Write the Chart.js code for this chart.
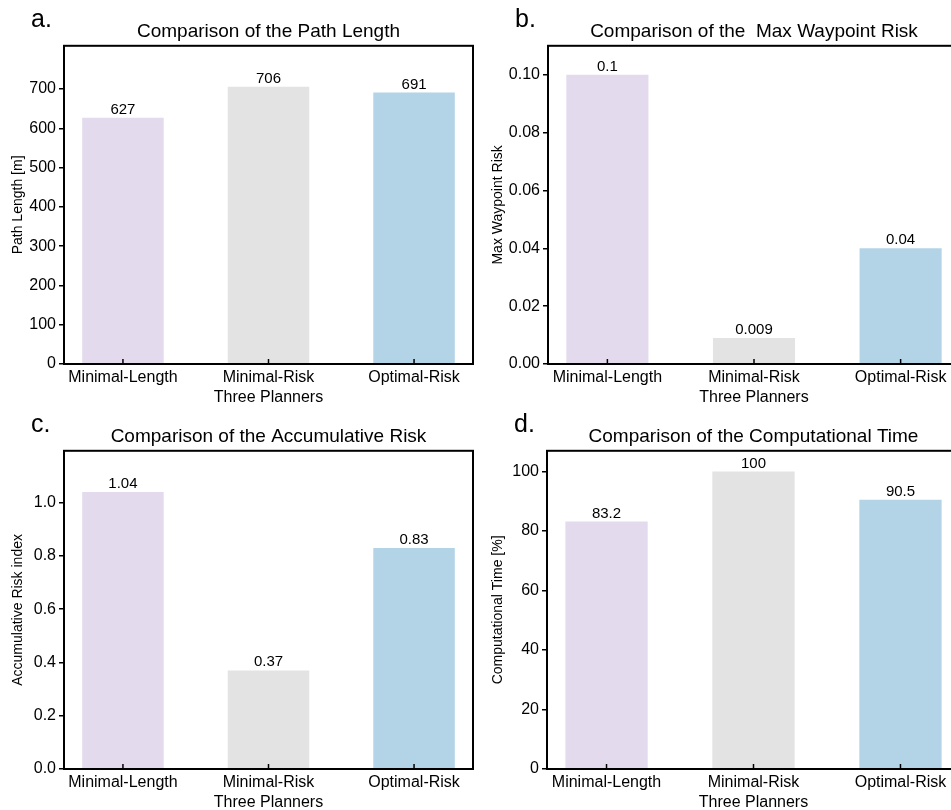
<!DOCTYPE html>
<html>
<head>
<meta charset="utf-8">
<title>Three Planners</title>
<script src="https://cdn.jsdelivr.net/npm/chart.js@4.4.1/dist/chart.umd.min.js"></script>
<style>
  html, body { margin: 0; padding: 0; background: #fff; overflow: hidden; }
  body { width: 951px; height: 810px; position: relative; }
  canvas { position: absolute; }
</style>
</head>
<body>
<canvas id="chartA" width="480" height="408" style="left:0;top:0"></canvas>
<canvas id="chartB" width="480" height="408" style="left:480px;top:0"></canvas>
<canvas id="chartC" width="480" height="408" style="left:0;top:405px"></canvas>
<canvas id="chartD" width="480" height="408" style="left:480px;top:405px"></canvas>
<script>
// ---------- DATA ----------
const planners = ["Minimal-Length", "Minimal-Risk", "Optimal-Risk"];

const pathLength        = [627, 706, 691];
const maxWaypointRisk   = [0.1, 0.009, 0.04];
const accumulativeRisk  = [1.04, 0.37, 0.83];
const computationalTime = [83.2, 100, 90.5];

const pathLengthTicks   = ["0", "100", "200", "300", "400", "500", "600", "700"];
const waypointRiskTicks = ["0.00", "0.02", "0.04", "0.06", "0.08", "0.10"];
const accRiskTicks      = ["0.0", "0.2", "0.4", "0.6", "0.8", "1.0"];
const compTimeTicks     = ["0", "20", "40", "60", "80", "100"];

// ---------- STYLE ----------
const plannerColors = ["#e3dbed", "#e3e3e3", "#b3d4e7"];

Chart.defaults.font.family = "'Liberation Sans', Arial, sans-serif";
Chart.defaults.color = "#000";

// frame, inward x ticks, value labels and panel letter
const panelDecor = {
  id: "panelDecor",
  afterDatasetsDraw(chart, args, opts) {
    const { ctx, chartArea: a, scales: { x } } = chart;
    ctx.save();
    ctx.strokeStyle = "#000";

    ctx.lineWidth = 1.5;
    x.ticks.forEach(t => {
      const px = x.getPixelForValue(t.value);
      ctx.beginPath();
      ctx.moveTo(px, a.bottom);
      ctx.lineTo(px, a.bottom - 5);
      ctx.stroke();
    });

    ctx.lineWidth = 2;
    ctx.strokeRect(a.left, a.top, a.right - a.left, a.bottom - a.top);

    ctx.fillStyle = "#000";
    ctx.font = "15px 'Liberation Sans', Arial, sans-serif";
    ctx.textAlign = "center";
    ctx.textBaseline = "alphabetic";
    chart.getDatasetMeta(0).data.forEach((bar, i) => {
      ctx.fillText(String(opts.values[i]), bar.x, bar.y - 4);
    });

    ctx.font = "25px 'Liberation Sans', Arial, sans-serif";
    ctx.textAlign = "left";
    ctx.fillText(opts.letter, a.left - 33, a.top - 19);
    ctx.restore();
  }
};

function buildChart(id, o) {
  const tickVals = o.tickLabels.map(Number);
  return new Chart(document.getElementById(id), {
    type: "bar",
    data: {
      datasets: [{
        data: o.values.map((v, i) => ({ x: i, y: v })),
        backgroundColor: plannerColors,
        borderWidth: 0,
        barPercentage: 0.56,
        categoryPercentage: 1
      }]
    },
    options: {
      responsive: false,
      animation: false,
      layout: { padding: { left: 0, top: 0, bottom: 0, right: o.padRight } },
      plugins: {
        legend: { display: false },
        tooltip: { enabled: false },
        title: {
          display: true, text: o.title, fullSize: false, color: "#000",
          font: { size: 19, weight: "normal" },
          padding: { top: 20, bottom: 3 }
        },
        panelDecor: { letter: o.letter, values: o.values }
      },
      scales: {
        x: {
          type: "linear", min: -0.405, max: 2.405, offset: false,
          grid: { display: false, drawTicks: false }, border: { display: false },
          afterBuildTicks: s => { s.ticks = planners.map((p, i) => ({ value: i })); },
          ticks: { autoSkip: false, maxRotation: 0, padding: 4, font: { size: 16 },
                   callback: (v, i) => planners[i] },
          title: { display: true, text: "Three Planners", font: { size: 16 },
                   padding: { top: 0, bottom: 1 } },
          afterFit: s => { s.height = 44; }
        },
        y: {
          min: 0, max: o.yMax,
          grid: { display: true, drawOnChartArea: false, drawTicks: true,
                  tickLength: 5, color: "#000", lineWidth: 1.5 },
          border: { display: false },
          afterBuildTicks: s => { s.ticks = tickVals.map(v => ({ value: v })); },
          ticks: { padding: 3, font: { size: 16 }, callback: (v, i) => o.tickLabels[i] },
          title: { display: true, text: o.yTitle, font: { size: 14 },
                   padding: { top: 10, bottom: 0 } },
          afterFit: s => { s.width = o.yWidth; }
        }
      }
    },
    plugins: [panelDecor]
  });
}

buildChart("chartA", {
  values: pathLength, tickLabels: pathLengthTicks, yMax: 810,
  title: "Comparison of the Path Length", yTitle: "Path Length [m]",
  letter: "a.", yWidth: 64, padRight: 7
});
buildChart("chartB", {
  values: maxWaypointRisk, tickLabels: waypointRiskTicks, yMax: 0.11,
  title: "Comparison of the  Max Waypoint Risk", yTitle: "Max Waypoint Risk",
  letter: "b.", yWidth: 68, padRight: 0
});
buildChart("chartC", {
  values: accumulativeRisk, tickLabels: accRiskTicks, yMax: 1.195,
  title: "Comparison of the Accumulative Risk", yTitle: "Accumulative Risk index",
  letter: "c.", yWidth: 64, padRight: 7
});
buildChart("chartD", {
  values: computationalTime, tickLabels: compTimeTicks, yMax: 107,
  title: "Comparison of the Computational Time", yTitle: "Computational Time [%]",
  letter: "d.", yWidth: 67, padRight: 0
});
</script>
</body>
</html>
